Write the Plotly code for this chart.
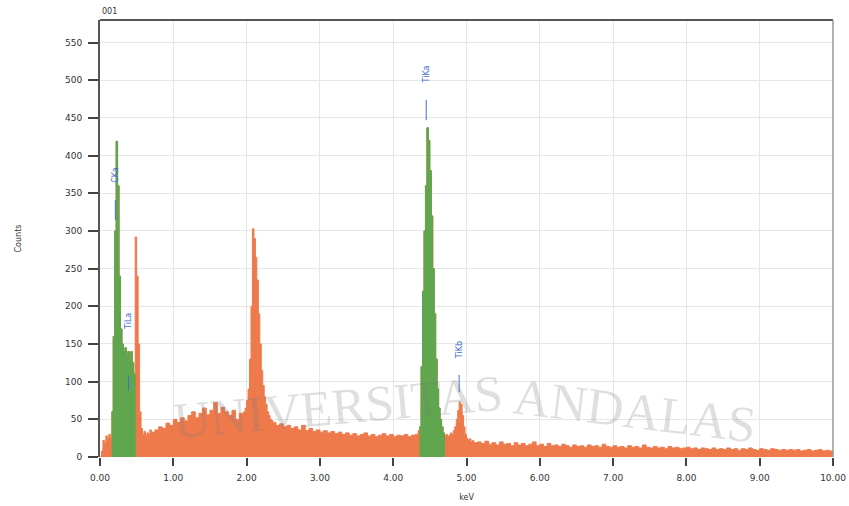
import numpy as np
import plotly.graph_objects as go

# ---- spectrum data (counts), in channel segments ----
# segment: (start keV, step keV, counts)
seg_a_counts = [0, 8, 22, 18, 28, 24, 30, 26, 60, 160, 300, 419, 360, 240, 170, 150,
                140, 145, 135, 140, 130, 140, 125, 110, 292, 240, 150, 60, 38, 30,
                34, 28, 32, 30, 36, 33]                      # 0.00 .. 0.70 step 0.02
seg_b_counts = [36, 40, 38, 45, 42, 50, 46, 52, 48, 55, 60, 52, 58, 65, 56, 62,
                72, 58, 66, 60, 55, 62, 50, 58, 55]          # 0.75 .. 1.95 step 0.05
seg_c_counts = [60, 65, 75, 90, 130, 200, 303, 290, 265, 235, 190, 150, 115, 95,
                80, 70, 60, 55, 50, 48, 45, 46, 42]          # 1.96 .. 2.40 step 0.02
seg_d_counts = [44, 40, 42, 38, 40, 36, 42, 35, 38, 34, 36, 33, 35, 32, 34, 31,
                33, 30, 32, 29, 31, 28, 30, 32, 28, 30, 27, 29, 31, 28, 30, 27,
                29, 28, 30, 27, 29, 30]                      # 2.45 .. 4.30 step 0.05
seg_e_counts = [30, 35, 40, 120, 220, 300, 360, 437, 420, 380, 320, 250, 190, 130,
                90, 65, 50, 40, 32, 28, 30, 27, 29, 32, 30, 35, 40, 50, 62, 73,
                70, 55, 40, 30, 25, 22, 24, 20, 22, 19]      # 4.32 .. 5.10 step 0.02
seg_f_counts = [20, 18, 21, 17, 19, 16, 20, 17, 18, 15, 19, 16, 18, 15, 17, 20,
                15, 17, 14, 18, 15, 16, 14, 17, 15, 13, 16, 14, 15, 13, 16, 14,
                15, 13, 17, 14, 13, 15, 13, 14, 12, 15, 13, 14, 12, 16, 13, 12,
                14, 12, 13, 11, 14, 12, 13, 11, 12, 13, 11, 12, 10, 12, 11, 10,
                12, 10, 11, 10, 12, 10, 11, 9, 11, 10, 12, 10, 9, 11, 10, 9,
                11, 10, 9, 10, 9, 10, 9, 10, 8, 9, 10, 8, 9, 10, 8, 9, 8, 9]  # 5.15 .. 10.00 step 0.05

segments = [(0.00, 0.02, seg_a_counts), (0.75, 0.05, seg_b_counts),
            (1.96, 0.02, seg_c_counts), (2.45, 0.05, seg_d_counts),
            (4.32, 0.02, seg_e_counts), (5.15, 0.05, seg_f_counts)]

energy, counts = [], []
for start, step, vals in segments:
    for i, v in enumerate(vals):
        energy.append(round(start + i * step, 3))
        counts.append(v)
energy = np.array(energy)
counts = np.array(counts)

# identified-element regions (green): [start, end)
roi_ranges = [(0.16, 0.48), (4.36, 4.70)]

# peak labels
label_text = ["CKa", "TiLa", "TiKa", "TiKb"]
label_energy = [0.21, 0.39, 4.45, 4.90]
label_text_y = [375, 180, 508, 142]
label_line_lo = [315, 88, 447, 86]
label_line_hi = [341, 108, 474, 109]

x_ticks = [0, 1, 2, 3, 4, 5, 6, 7, 8, 9, 10]
y_ticks = [0, 50, 100, 150, 200, 250, 300, 350, 400, 450, 500, 550]

ORANGE = "#EE7A4C"
GREEN = "#5FA64E"
BLUE = "#3F6FD0"

fig = go.Figure()
fig.add_trace(go.Scatter(x=energy, y=counts, mode="lines", line_shape="hv",
                         line=dict(color=ORANGE, width=1), fill="tozeroy",
                         fillcolor=ORANGE, hoverinfo="skip", showlegend=False))
for lo, hi in roi_ranges:
    m = (energy >= lo - 1e-9) & (energy < hi - 1e-9)
    xs = list(energy[m]) + [hi]
    ys = list(counts[m]) + [0]
    fig.add_trace(go.Scatter(x=xs, y=ys, mode="lines", line_shape="hv",
                             line=dict(color=GREEN, width=1), fill="tozeroy",
                             fillcolor=GREEN, hoverinfo="skip", showlegend=False))

for t, e, ty, lo, hi in zip(label_text, label_energy, label_text_y, label_line_lo, label_line_hi):
    fig.add_shape(type="line", x0=e, x1=e, y0=lo, y1=hi, xref="x", yref="y",
                  line=dict(color=BLUE, width=1))
    fig.add_annotation(x=e, y=ty, text=t, textangle=-90, showarrow=False,
                       font=dict(family="DejaVu Sans", size=8, color=BLUE))

# watermark (arched text)
wm_font = dict(family="Liberation Serif", size=51, color="rgba(120,120,120,0.24)")
fig.add_annotation(xref="paper", yref="paper", x=0.325, y=0.115, xanchor="center",
                   yanchor="middle", text="UNIVERSITAS", showarrow=False,
                   textangle=-5, font=wm_font)
fig.add_annotation(xref="paper", yref="paper", x=0.73, y=0.105, xanchor="center",
                   yanchor="middle", text="ANDALAS", showarrow=False,
                   textangle=7, font=wm_font)

fig.add_annotation(xref="paper", yref="paper", x=0.0, y=1.0, xanchor="left",
                   yanchor="bottom", text="001", showarrow=False, yshift=2,
                   font=dict(family="DejaVu Sans", size=8, color="#333"))

# top and right borders
fig.add_shape(type="line", xref="paper", yref="paper", x0=0, x1=1, y0=1, y1=1,
              line=dict(color="#555", width=2))
fig.add_shape(type="line", xref="paper", yref="paper", x0=1, x1=1, y0=0, y1=1,
              line=dict(color="#999", width=1.5))

fig.update_layout(
    width=849, height=506,
    margin=dict(l=100, r=16, t=20, b=49),
    paper_bgcolor="white", plot_bgcolor="white",
    font=dict(family="DejaVu Sans", size=9, color="#333"),
    xaxis=dict(range=[0, 10], tickvals=x_ticks, automargin=False,
               ticktext=[f"{v:.2f}" for v in x_ticks],
               ticks="outside", ticklen=8, tickcolor="#444", tickwidth=1.5,
               ticklabelstandoff=4,
               showgrid=True, gridcolor="#e6e6e6", gridwidth=1,
               zeroline=False, showline=False,
               title=dict(text="keV", font=dict(size=8), standoff=12)),
    yaxis=dict(range=[0, 580], tickvals=y_ticks, automargin=False,
               ticks="outside", ticklen=10, tickcolor="#444", tickwidth=1.5,
               ticklabelstandoff=4,
               showgrid=True, gridcolor="#e6e6e6", gridwidth=1,
               zeroline=False, showline=True, linecolor="#555", linewidth=2,
               title=dict(text="Counts", font=dict(size=8), standoff=42)),
)

fig.write_html("out.html")
